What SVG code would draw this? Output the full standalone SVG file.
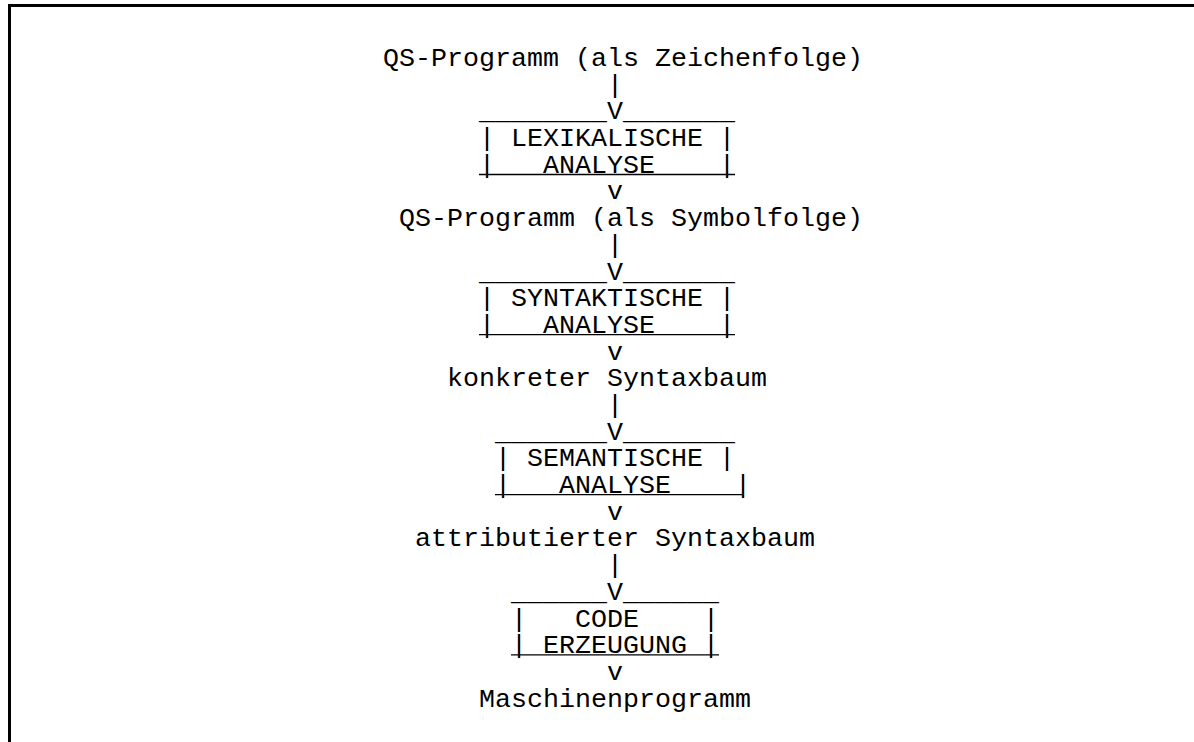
<svg xmlns="http://www.w3.org/2000/svg" width="1194" height="742" viewBox="0 0 1194 742">
  <style>
    text { font-family: "Liberation Mono", "Courier New", monospace; font-size: 26.67px; fill: #000; white-space: pre; }
    .rule { stroke: #000; stroke-width: 1.3; }
    .frame { fill: none; stroke: #000; stroke-width: 3; }
  </style>
  <rect width="1194" height="742" fill="#fff"/>
  <!-- outer frame, open to the right and bottom -->
  <rect class="frame" x="9.5" y="5.5" width="1400" height="1000"/>

  <!-- data stages -->
  <g id="source-chars"><text x="383" y="66">QS-Programm (als Zeichenfolge)</text></g>
  <g id="source-symbols"><text x="399" y="226.1">QS-Programm (als Symbolfolge)</text></g>
  <g id="concrete-tree"><text x="447" y="386.3">konkreter Syntaxbaum</text></g>
  <g id="attributed-tree"><text x="415" y="546.4">attributierter Syntaxbaum</text></g>
  <g id="machine-program"><text x="479" y="706.6">Maschinenprogramm</text></g>

  <!-- processing boxes -->
  <g id="lexical-analysis">
    <text x="479" y="119.4">________</text><text x="623" y="119.4">_______</text>
    <text x="479" y="146.1">|</text><text x="511" y="146.1">LEXIKALISCHE</text><text x="719" y="146.1">|</text>
    <text x="479" y="172.8">|</text><text x="543" y="172.8">ANALYSE</text><text x="719" y="172.8">|</text>
    <line class="rule" x1="479" y1="174.5" x2="735" y2="174.5"/>
  </g>
  <g id="syntax-analysis">
    <text x="479" y="279.5">________</text><text x="623" y="279.5">_______</text>
    <text x="479" y="306.2">|</text><text x="511" y="306.2">SYNTAKTISCHE</text><text x="719" y="306.2">|</text>
    <text x="479" y="332.9">|</text><text x="543" y="332.9">ANALYSE</text><text x="719" y="332.9">|</text>
    <line class="rule" x1="479" y1="334.6" x2="735" y2="334.6"/>
  </g>
  <g id="semantic-analysis">
    <text x="495" y="439.7">_______</text><text x="623" y="439.7">_______</text>
    <text x="495" y="466.4">|</text><text x="527" y="466.4">SEMANTISCHE</text><text x="719" y="466.4">|</text>
    <text x="495" y="493">|</text><text x="559" y="493">ANALYSE</text><text x="735" y="493">|</text>
    <line class="rule" x1="495" y1="494.7" x2="743" y2="494.7"/>
  </g>
  <g id="code-generation">
    <text x="511" y="599.8">______</text><text x="623" y="599.8">______</text>
    <text x="511" y="626.5">|</text><text x="575" y="626.5">CODE</text><text x="703" y="626.5">|</text>
    <text x="511" y="653.2">|</text><text x="543" y="653.2">ERZEUGUNG</text><text x="703" y="653.2">|</text>
    <line class="rule" x1="511" y1="654.9" x2="719" y2="654.9"/>
  </g>

  <!-- flow arrows: shaft, head into box, head out of box -->
  <g id="connectors">
    <text x="607" y="92.7">|</text><text x="607" y="119.4">V</text><text x="607" y="199.4">v</text>
    <text x="607" y="252.8">|</text><text x="607" y="279.5">V</text><text x="607" y="359.6">v</text>
    <text x="607" y="413">|</text><text x="607" y="439.7">V</text><text x="607" y="519.7">v</text>
    <text x="607" y="573.1">|</text><text x="607" y="599.8">V</text><text x="607" y="679.9">v</text>
  </g>
</svg>
